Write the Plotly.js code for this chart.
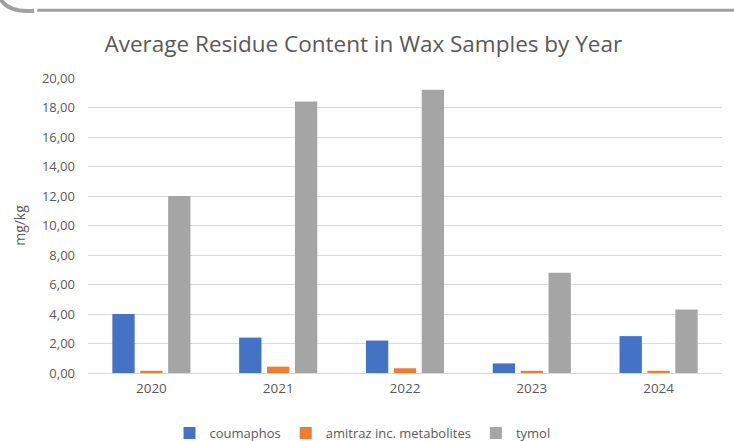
<!DOCTYPE html>
<html><head><meta charset="utf-8">
<script src="https://cdn.plot.ly/plotly-3.0.1.min.js"></script>
<style>html,body{margin:0;padding:0;background:#fff}#c{width:734px;height:441px}</style>
</head><body><div id="c"></div>
<script>
const years = ["2020","2021","2022","2023","2024"];
const coumaphos = [4.0, 2.4, 2.2, 0.65, 2.5];
const amitraz = [0.15, 0.43, 0.32, 0.15, 0.15];
const tymol = [12.0, 18.4, 19.2, 6.8, 4.3];
const seriesNames = ["coumaphos", "amitraz inc. metabolites", "tymol"];
const colors = ["#4472C4", "#ED7D31", "#A5A5A5"];
const yTicks = [0,2,4,6,8,10,12,14,16,18,20];

const data = [coumaphos, amitraz, tymol].map((v,i)=>({
  type:'bar', x:years, y:v, name:seriesNames[i],
  marker:{color:colors[i]}, hoverinfo:'skip'
}));

const layout = {
  width:734, height:441,
  margin:{l:88, r:12, t:78, b:68, autoexpand:false},
  paper_bgcolor:'#fff', plot_bgcolor:'#fff',
  font:{family:'"Open Sans", Lato, sans-serif', color:'#595959', size:10},
  separators:',.',
  title:{text:'Average Residue Content in Wax Samples by Year', x:0.495, xanchor:'center', y:0.9, yanchor:'middle',
    font:{size:22.5, color:'#595959', family:'"Open Sans", sans-serif'}},
  barmode:'group', bargap:0.34, bargroupgap:0.2,
  xaxis:{showline:true, linecolor:'#D9D9D9', ticks:'', tickfont:{size:13.5, color:'#595959'}, ticklabelstandoff:3},
  yaxis:{range:[0,20], tickvals:yTicks, tickformat:'.2f', showgrid:true, gridcolor:'#D9D9D9', zeroline:false,
    ticks:'', ticklen:0, ticklabelstandoff:12, tickfont:{size:13, color:'#595959'},
    title:{text:'mg/kg', font:{size:14, color:'#595959'}, standoff:12}},
  legend:{orientation:'h', x:0.433, xanchor:'center', yref:'container', y:0.018, yanchor:'middle', font:{size:13, color:'#595959'}, itemwidth:30, traceorder:'normal'},
  shapes:[
    {type:'line', xref:'paper', yref:'paper', x0:-0.08, x1:1.02, y0:1.23, y1:1.23, line:{color:'#A0A0A0', width:3}},
    {type:'path', xref:'paper', yref:'paper', path:'M -0.139,1.27 Q -0.125,1.22 -0.085,1.228', line:{color:'#A0A0A0', width:4}}
  ]
};
Plotly.newPlot('c', data, layout, {displayModeBar:false, staticPlot:true});
</script></body></html>
